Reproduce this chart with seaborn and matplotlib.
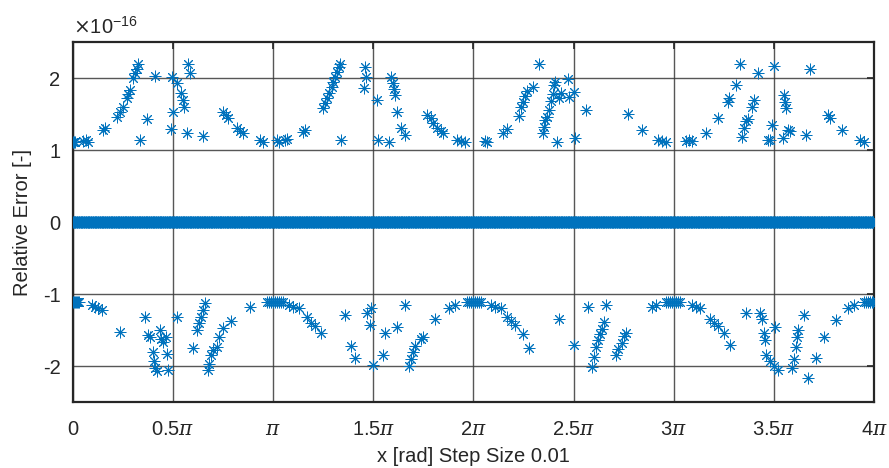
import numpy as np
import pandas as pd
import matplotlib.pyplot as plt
import seaborn as sns

# x grid of the evaluation (step size 0.01 rad over [0, 4*pi])
x_grid = np.arange(0, 4 * np.pi, 0.01)

# points that came out with zero relative error (the dense band at 0)
zero_err = np.zeros(len(x_grid))

# non-zero relative errors, x in multiples of pi, error in units of 1e-16
upper_x_pi = [0.0, 0.005, 0.01, 0.05, 0.065, 0.075, 0.15, 0.16, 0.22, 0.235, 0.25, 0.27, 0.275, 0.285,
              0.30, 0.31, 0.32, 0.325, 0.335, 0.37, 0.41, 0.49, 0.495, 0.50, 0.52, 0.54, 0.55,
              0.555, 0.57, 0.575, 0.585, 0.65, 0.75, 0.765, 0.775, 0.82, 0.835, 0.85, 0.935,
              0.95, 1.02, 1.03, 1.06, 1.07, 1.15, 1.16, 1.25, 1.26, 1.27, 1.28, 1.295, 1.30,
              1.31, 1.32, 1.33, 1.335, 1.34, 1.46, 1.465, 1.455, 1.52, 1.525, 1.58, 1.59,
              1.60, 1.605, 1.61, 1.62, 1.64, 1.66, 1.77, 1.79, 1.80, 1.82, 1.84, 1.85, 1.92,
              1.94, 1.96, 2.06, 2.07, 2.15, 2.17, 2.23, 2.24, 2.25, 2.26, 2.27, 2.30, 2.33,
              2.35, 2.355, 2.36, 2.37, 2.38, 2.39, 2.40, 2.405, 2.41, 2.42, 2.43, 2.435, 2.47,
              2.475, 2.50, 2.505, 2.56, 2.77, 2.84, 2.92, 2.94, 2.96, 3.06, 3.075, 3.09, 3.16,
              3.22, 3.27, 3.275, 3.31, 3.33, 3.34, 3.35, 3.36, 3.37, 3.39, 3.40, 3.42, 3.47,
              3.48, 3.49, 3.50, 3.55, 3.555, 3.56, 3.545, 3.57, 3.58, 3.66, 3.68, 3.77, 3.78,
              3.84, 3.93, 3.95]
upper_err = [1.11, 1.11, 1.11, 1.12, 1.14, 1.11, 1.28, 1.30, 1.46, 1.53, 1.60, 1.72, 1.78, 1.83,
             2.00, 2.07, 2.13, 2.20, 1.14, 1.43, 2.03, 1.29, 2.02, 1.53, 1.93, 1.80, 1.70,
             1.60, 1.24, 2.20, 2.07, 1.20, 1.53, 1.49, 1.45, 1.30, 1.27, 1.24, 1.14,
             1.11, 1.14, 1.11, 1.14, 1.15, 1.25, 1.28, 1.58, 1.65, 1.72, 1.80, 1.88, 1.95,
             2.02, 2.08, 2.15, 2.20, 1.14, 2.16, 2.02, 1.86, 1.70, 1.14, 1.11, 2.02,
             1.93, 1.85, 1.76, 1.53, 1.30, 1.21, 1.49, 1.45, 1.38, 1.30, 1.27, 1.24, 1.14,
             1.12, 1.11, 1.13, 1.11, 1.24, 1.29, 1.47, 1.60, 1.67, 1.75, 1.82, 1.88, 2.20,
             1.24, 1.32, 1.42, 1.46, 1.55, 1.68, 1.78, 1.90, 1.95, 1.11, 1.73, 1.80, 1.99,
             1.74, 1.81, 1.17, 1.55, 1.50, 1.28, 1.14, 1.12, 1.11, 1.13, 1.14, 1.13, 1.24,
             1.45, 1.67, 1.72, 1.91, 2.19, 1.18, 1.30, 1.40, 1.43, 1.60, 1.69, 2.07, 1.14,
             1.14, 1.35, 2.17, 1.76, 1.67, 1.58, 1.17, 1.28, 1.26, 1.21, 2.12, 1.49, 1.45,
             1.28, 1.14, 1.11]

lower_x_pi = [0.0, 0.005, 0.01, 0.015, 0.02, 0.025, 0.03, 0.095, 0.11, 0.125, 0.145, 0.235, 0.36,
              0.375, 0.385, 0.40, 0.405, 0.41, 0.42, 0.435, 0.44, 0.45, 0.465, 0.47, 0.475, 0.52,
              0.60, 0.62, 0.63, 0.64, 0.65, 0.66, 0.675, 0.68, 0.69, 0.70, 0.72, 0.73, 0.75,
              0.79, 0.885, 0.97, 0.98, 0.99, 1.0, 1.01, 1.02, 1.03, 1.04, 1.05, 1.08, 1.10,
              1.13, 1.17, 1.19, 1.21, 1.24, 1.36, 1.39, 1.41, 1.47, 1.49, 1.485, 1.50, 1.55,
              1.56, 1.62, 1.66, 1.68, 1.69, 1.70, 1.71, 1.74, 1.75, 1.81, 1.88, 1.91, 1.97,
              1.98, 1.99, 2.0, 2.01, 2.02, 2.03, 2.04, 2.09, 2.11, 2.14, 2.17, 2.19, 2.21,
              2.25, 2.28, 2.43, 2.50, 2.57, 2.59, 2.60, 2.61, 2.62, 2.63, 2.64, 2.65, 2.66,
              2.71, 2.72, 2.74, 2.75, 2.76, 2.89, 2.91, 2.96, 2.97, 2.98, 2.99, 3.0, 3.01,
              3.02, 3.03, 3.09, 3.11, 3.13, 3.18, 3.20, 3.22, 3.25, 3.28, 3.36, 3.43, 3.44,
              3.45, 3.455, 3.46, 3.48, 3.50, 3.52, 3.505, 3.59, 3.60, 3.61, 3.615, 3.62, 3.65,
              3.67, 3.71, 3.75, 3.81, 3.87, 3.90, 3.95, 3.96, 3.97, 3.98, 3.99, 3.995]
lower_err = [-1.11, -1.11, -1.11, -1.11, -1.11, -1.11, -1.11, -1.15, -1.18, -1.20, -1.22, -1.53, -1.32,
             -1.57, -1.60, -1.80, -1.93, -2.03, -2.07, -1.50, -1.63, -1.67, -1.60, -1.83, -2.05, -1.32,
             -1.75, -1.50, -1.40, -1.32, -1.22, -1.13, -2.05, -1.97, -1.85, -1.78, -1.73, -1.60, -1.47,
             -1.38, -1.18, -1.11, -1.11, -1.11, -1.11, -1.11, -1.11, -1.11, -1.11, -1.11, -1.15, -1.18,
             -1.20, -1.32, -1.40, -1.45, -1.54, -1.29, -1.72, -1.89, -1.26, -1.20, -1.43, -1.99, -1.85,
             -1.54, -1.46, -1.15, -2.00, -1.90, -1.80, -1.72, -1.62, -1.60, -1.35, -1.19, -1.15, -1.11,
             -1.11, -1.11, -1.11, -1.11, -1.11, -1.11, -1.11, -1.15, -1.18, -1.20, -1.32, -1.38, -1.43,
             -1.55, -1.75, -1.34, -1.71, -1.18, -2.01, -1.87, -1.74, -1.64, -1.56, -1.48, -1.39, -1.15,
             -1.85, -1.76, -1.68, -1.58, -1.54, -1.18, -1.15, -1.11, -1.11, -1.11, -1.11, -1.11, -1.11,
             -1.11, -1.11, -1.15, -1.18, -1.20, -1.34, -1.40, -1.45, -1.54, -1.71, -1.26, -1.26, -1.34,
             -1.54, -1.64, -1.85, -1.93, -2.00, -2.05, -1.46, -2.03, -1.90, -1.73, -1.60, -1.50, -1.29,
             -2.17, -1.89, -1.60, -1.36, -1.20, -1.15, -1.11, -1.11, -1.11, -1.11, -1.11, -1.11]

xtick_vals_pi = [0, 0.5, 1, 1.5, 2, 2.5, 3, 3.5, 4]
xtick_labels = ['0', '0.5$\\pi$', '$\\pi$', '1.5$\\pi$', '2$\\pi$', '2.5$\\pi$', '3$\\pi$', '3.5$\\pi$', '4$\\pi$']
ytick_vals = [-2, -1, 0, 1, 2]

df = pd.DataFrame({
    'x': np.concatenate([x_grid, np.array(upper_x_pi) * np.pi, np.array(lower_x_pi) * np.pi]),
    'err': np.concatenate([zero_err, upper_err, lower_err]),
})

sns.set_theme(style='white')
plt.rcParams['font.family'] = ['Liberation Sans', 'DejaVu Sans']
plt.rcParams['mathtext.fontset'] = 'dejavuserif'

fig = plt.figure(figsize=(8.89, 4.68), dpi=100)
ax = fig.add_axes([0.082, 0.141, 0.901, 0.769])

blue = '#0072BD'
sns.scatterplot(data=df, x='x', y='err', ax=ax, marker=(8, 2, 0), s=62,
                color=blue, edgecolor=blue, linewidth=0.7, legend=False, zorder=3)

ax.set_xlim(0, 4 * np.pi)
ax.set_ylim(-2.5, 2.5)
ax.set_xticks([v * np.pi for v in xtick_vals_pi])
ax.set_xticklabels(xtick_labels)
ax.set_yticks(ytick_vals)
ax.set_yticklabels([str(v) for v in ytick_vals])

ax.grid(True, color='#3a3a3a', linewidth=1.0, alpha=0.85, zorder=0)
ax.set_axisbelow(True)
for sp in ax.spines.values():
    sp.set_color('#262626')
    sp.set_linewidth(1.6)
fs = 14.5
ax.tick_params(direction='in', length=5, width=1.2, color='#262626', labelsize=fs,
               labelcolor='#262626', top=True, right=True)
ax.tick_params(axis='x', pad=13)
ax.tick_params(axis='y', pad=9)

ax.set_xlabel('x [rad] Step Size 0.01', fontsize=fs, color='#262626', labelpad=6)
ax.set_ylabel('Relative Error [-]', fontsize=fs, color='#262626', labelpad=8)
ax.text(0.0, 1.012, '$\\times$10$^{\\mathregular{-16}}$', transform=ax.transAxes, fontsize=fs,
        color='#262626', ha='left', va='bottom')

fig.savefig('out.png', dpi=100)
